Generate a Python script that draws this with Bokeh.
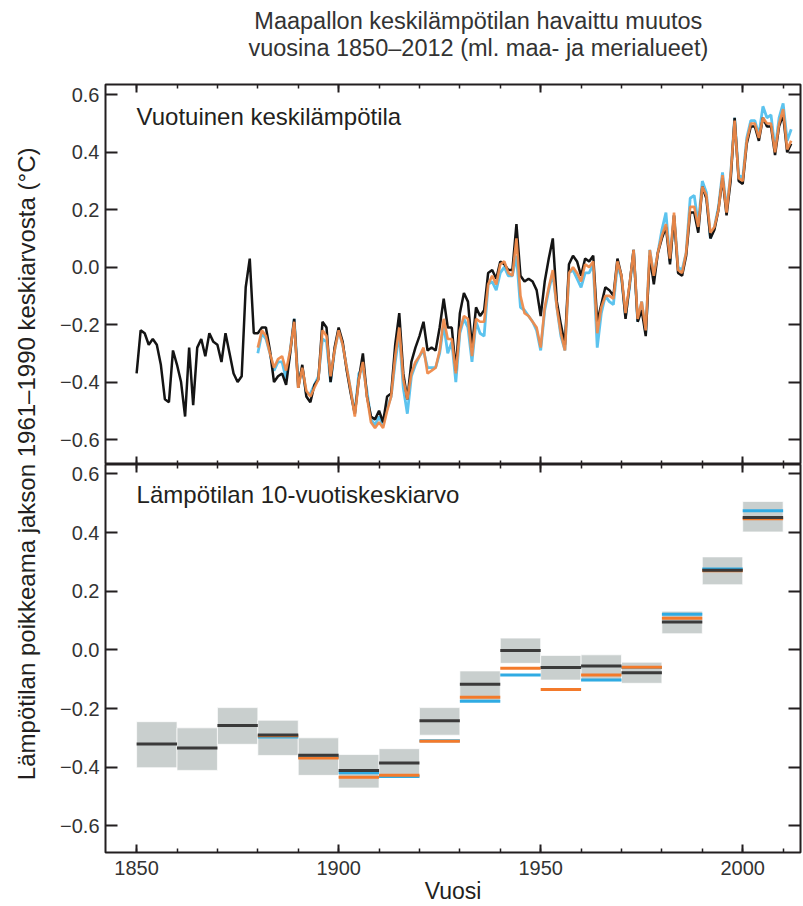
import math
from bokeh.plotting import figure
from bokeh.layouts import row, column
from bokeh.models import (Range1d, LinearAxis, FixedTicker, CustomJSTickFormatter, Label)
from bokeh.embed import file_html
from bokeh.resources import INLINE

# ---------------- data ----------------
title_line1 = "Maapallon keskilämpötilan havaittu muutos"
title_line2 = "vuosina 1850–2012 (ml. maa- ja merialueet)"
panel1_label = "Vuotuinen keskilämpötila"
panel2_label = "Lämpötilan 10-vuotiskeskiarvo"
y_label = "Lämpötilan poikkeama jakson 1961–1990 keskiarvosta  (°C)"
x_label = "Vuosi"

years_black = list(range(1850, 2013))
years_colour = list(range(1880, 2013))

# annual anomalies, black series (1850-2012)
annual_black = [
    -0.37, -0.22, -0.23, -0.27, -0.25, -0.27, -0.34, -0.46, -0.47, -0.29,
    -0.34, -0.40, -0.52, -0.28, -0.48, -0.28, -0.25, -0.31, -0.23, -0.26,
    -0.27, -0.33, -0.23, -0.30, -0.37, -0.40, -0.38, -0.07, 0.03, -0.23,
    -0.23, -0.21, -0.21, -0.29, -0.40, -0.38, -0.37, -0.41, -0.30, -0.18,
    -0.42, -0.34, -0.45, -0.47, -0.41, -0.39, -0.19, -0.21, -0.40, -0.28,
    -0.21, -0.26, -0.36, -0.44, -0.51, -0.39, -0.30, -0.45, -0.52, -0.53,
    -0.50, -0.54, -0.45, -0.44, -0.27, -0.16, -0.37, -0.46, -0.33, -0.28,
    -0.24, -0.19, -0.29, -0.28, -0.29, -0.21, -0.11, -0.21, -0.21, -0.36,
    -0.16, -0.09, -0.12, -0.28, -0.14, -0.17, -0.15, -0.02, -0.01, -0.04,
    0.02, 0.01, -0.01, -0.01, 0.15, -0.03, -0.05, -0.04, -0.05, -0.08,
    -0.17, -0.05, 0.03, 0.10, -0.12, -0.20, -0.27, 0.01, 0.04, 0.02,
    -0.03, 0.03, 0.02, 0.04, -0.19, -0.13, -0.07, -0.08, -0.10, 0.03,
    -0.03, -0.18, -0.06, 0.06, -0.19, -0.15, -0.24, 0.04, -0.06, 0.05,
    0.10, 0.14, 0.01, 0.18, -0.02, -0.03, 0.04, 0.19, 0.19, 0.12,
    0.28, 0.24, 0.10, 0.13, 0.20, 0.31, 0.18, 0.30, 0.52, 0.30,
    0.29, 0.43, 0.49, 0.49, 0.44, 0.52, 0.49, 0.49, 0.39, 0.49,
    0.53, 0.40, 0.43,
]

# annual anomalies, orange series (1880-2012)
annual_orange = [
    -0.28, -0.22, -0.24, -0.30, -0.35, -0.32, -0.31, -0.36, -0.29, -0.19,
    -0.42, -0.35, -0.43, -0.45, -0.42, -0.39, -0.22, -0.24, -0.38, -0.29,
    -0.22, -0.27, -0.35, -0.43, -0.52, -0.39, -0.33, -0.45, -0.54, -0.56,
    -0.54, -0.56, -0.50, -0.45, -0.31, -0.21, -0.39, -0.46, -0.37, -0.33,
    -0.31, -0.28, -0.37, -0.36, -0.35, -0.29, -0.18, -0.25, -0.25, -0.37,
    -0.22, -0.17, -0.18, -0.31, -0.18, -0.19, -0.19, -0.06, -0.03, -0.06,
    0.01, 0.02, -0.02, -0.03, 0.10, -0.10, -0.16, -0.17, -0.19, -0.21,
    -0.28, -0.14, -0.07, -0.01, -0.14, -0.23, -0.29, -0.02, 0.00, -0.02,
    -0.05, 0.01, 0.00, 0.02, -0.23, -0.14, -0.10, -0.10, -0.11, 0.02,
    -0.03, -0.16, -0.06, 0.06, -0.18, -0.12, -0.22, 0.06, -0.03, 0.05,
    0.11, 0.15, 0.03, 0.19, -0.01, -0.02, 0.05, 0.21, 0.21, 0.14,
    0.28, 0.25, 0.12, 0.14, 0.20, 0.32, 0.19, 0.32, 0.51, 0.31,
    0.30, 0.44, 0.50, 0.50, 0.45, 0.52, 0.50, 0.50, 0.40, 0.50,
    0.55, 0.41, 0.44,
]

# annual anomalies, blue series (1880-2012)
annual_blue = [
    -0.30, -0.23, -0.25, -0.30, -0.36, -0.33, -0.33, -0.39, -0.29, -0.18,
    -0.40, -0.35, -0.44, -0.44, -0.41, -0.38, -0.25, -0.26, -0.40, -0.29,
    -0.22, -0.27, -0.35, -0.43, -0.51, -0.37, -0.35, -0.43, -0.53, -0.55,
    -0.52, -0.55, -0.49, -0.45, -0.33, -0.23, -0.42, -0.51, -0.38, -0.34,
    -0.31, -0.29, -0.35, -0.35, -0.35, -0.30, -0.20, -0.30, -0.26, -0.40,
    -0.23, -0.18, -0.21, -0.33, -0.19, -0.23, -0.24, -0.06, -0.05, -0.08,
    -0.02, 0.00, -0.03, -0.03, 0.04, -0.14, -0.15, -0.17, -0.19, -0.22,
    -0.29, -0.15, -0.08, -0.02, -0.14, -0.24, -0.29, -0.02, -0.01, -0.04,
    -0.07, -0.02, -0.02, 0.01, -0.28, -0.16, -0.10, -0.12, -0.13, 0.01,
    -0.04, -0.17, -0.07, 0.06, -0.19, -0.12, -0.23, 0.06, -0.03, 0.05,
    0.13, 0.19, 0.02, 0.18, 0.00, -0.01, 0.05, 0.24, 0.25, 0.15,
    0.30, 0.26, 0.10, 0.14, 0.21, 0.33, 0.20, 0.32, 0.52, 0.32,
    0.31, 0.45, 0.51, 0.51, 0.46, 0.56, 0.52, 0.53, 0.41, 0.52,
    0.57, 0.44, 0.48,
]

# decadal means
decades_black = [1850, 1860, 1870, 1880, 1890, 1900, 1910, 1920,
                 1930, 1940, 1950, 1960, 1970, 1980, 1990, 2000]
decadal_black = [-0.321, -0.335, -0.258, -0.290, -0.359, -0.411, -0.386, -0.242,
                 -0.117, -0.002, -0.060, -0.055, -0.078, 0.095, 0.271, 0.451]
decadal_low = [-0.402, -0.411, -0.322, -0.360, -0.428, -0.471, -0.436, -0.291,
               -0.175, -0.046, -0.103, -0.108, -0.114, 0.055, 0.222, 0.402]
decadal_high = [-0.245, -0.266, -0.197, -0.240, -0.300, -0.357, -0.337, -0.197,
                -0.072, 0.040, -0.019, -0.017, -0.042, 0.132, 0.317, 0.506]
decades_colour = [1880, 1890, 1900, 1910, 1920, 1930, 1940,
                  1950, 1960, 1970, 1980, 1990, 2000]
decadal_orange = [-0.293, -0.369, -0.434, -0.428, -0.312, -0.162, -0.063,
                  -0.135, -0.086, -0.059, 0.108, 0.270, 0.447]
decadal_blue = [-0.297, -0.365, -0.419, -0.432, -0.310, -0.175, -0.086,
                -0.060, -0.103, -0.060, 0.121, 0.276, 0.474]
decade_length = 10

y_ticks = [-0.6, -0.4, -0.2, 0.0, 0.2, 0.4, 0.6]
x_major_ticks = [1850, 1900, 1950, 2000]
x_minor_ticks = [1850, 1860, 1870, 1880, 1890, 1900, 1910, 1920, 1930,
                 1940, 1950, 1960, 1970, 1980, 1990, 2000, 2010]

# ---------------- style ----------------
FONT = "Liberation Sans"
INK = "#231f20"
TICK_TXT = "#333333"
BLACK = "#141414"
ORANGE_A = "#ef8a4a"
BLUE_A = "#5cc3ee"
ORANGE_D = "#f37a2b"
BLUE_D = "#2fabe3"
DARK_D = "#3a3a3a"
BOX = "#c9cfce"

MAIN_W = 754
x_range = Range1d(1842.3, 2014.3)

yfmt = CustomJSTickFormatter(code="return tick.toFixed(1).replace('-', '\u2212');")


def hide_labels(ax):
    ax.formatter = CustomJSTickFormatter(code="return '';")
    ax.major_label_text_font_size = "0px"
    ax.major_label_standoff = 0


def style_common(ax):
    ax.axis_line_color = None
    ax.major_tick_line_color = INK
    ax.minor_tick_line_color = INK
    ax.major_tick_line_width = 2
    ax.minor_tick_line_width = 1.5
    ax.major_tick_out = 0
    ax.minor_tick_out = 0
    ax.major_label_text_font = FONT
    ax.major_label_text_font_size = "20px"
    ax.major_label_text_color = TICK_TXT


def style_x(ax, labels):
    ax.ticker = FixedTicker(ticks=x_major_ticks, minor_ticks=x_minor_ticks)
    style_common(ax)
    ax.major_tick_in = 8
    ax.minor_tick_in = 4
    if not labels:
        hide_labels(ax)


def style_y(ax, labels):
    ax.ticker = FixedTicker(ticks=y_ticks, minor_ticks=[])
    style_common(ax)
    ax.major_tick_in = 12
    ax.minor_tick_in = 0
    if labels:
        ax.formatter = yfmt
        ax.major_label_standoff = 6
    else:
        hide_labels(ax)


def bare_fig(width, height):
    f = figure(width=width, height=height, x_range=Range1d(0, width),
               y_range=Range1d(0, height), output_backend="svg",
               toolbar_location=None, title=None,
               x_axis_location=None, y_axis_location=None,
               min_border_left=0, min_border_right=0,
               min_border_top=0, min_border_bottom=0)
    f.outline_line_color = None
    f.xgrid.grid_line_color = None
    f.ygrid.grid_line_color = None
    return f


def make_fig(height, y_range, top_border, bottom_border):
    p = figure(width=MAIN_W, height=height, x_range=x_range, y_range=y_range,
               output_backend="svg", toolbar_location=None, title=None,
               min_border_left=57, min_border_right=2,
               min_border_top=top_border, min_border_bottom=bottom_border)
    p.xgrid.grid_line_color = None
    p.ygrid.grid_line_color = None
    p.outline_line_color = INK
    p.outline_line_width = 2
    p.background_fill_color = "white"
    p.border_fill_color = "white"
    return p


# ---------------- title strip ----------------
tfig = bare_fig(MAIN_W, 80)
tfig.add_layout(Label(x=404.5, y=60, text=title_line1, text_font=FONT,
                      text_font_size="23.5px", text_color="#333333",
                      text_align="center", text_baseline="middle"))
tfig.add_layout(Label(x=404.5, y=33, text=title_line2, text_font=FONT,
                      text_font_size="23.5px", text_color="#333333",
                      text_align="center", text_baseline="middle"))

# ---------------- top panel ----------------
top = make_fig(384, Range1d(-0.687, 0.636), 4, 0)
style_x(top.xaxis[0], labels=False)
style_y(top.yaxis[0], labels=True)
ax_top = LinearAxis()
style_x(ax_top, labels=False)
top.add_layout(ax_top, "above")
ax_right = LinearAxis()
style_y(ax_right, labels=False)
top.add_layout(ax_right, "right")

top.line(years_colour, annual_blue, line_color=BLUE_A, line_width=2.8)
top.line(years_black, annual_black, line_color=BLACK, line_width=2.5)
top.line(years_colour, annual_orange, line_color=ORANGE_A, line_width=2.6, line_alpha=0.95)

top.add_layout(Label(x=1850, y=0.57, text=panel1_label, text_font=FONT,
                     text_font_size="24px", text_color=INK, text_baseline="top",
                     text_align="left"))

# ---------------- bottom panel ----------------
bot = make_fig(442, Range1d(-0.691, 0.632), 0, 53)
style_x(bot.xaxis[0], labels=True)
bot.xaxis[0].major_label_standoff = 8
bot.xaxis[0].axis_label = x_label
bot.xaxis[0].axis_label_text_font = FONT
bot.xaxis[0].axis_label_text_font_size = "23px"
bot.xaxis[0].axis_label_text_font_style = "normal"
bot.xaxis[0].axis_label_text_color = INK
bot.xaxis[0].axis_label_standoff = 0
style_y(bot.yaxis[0], labels=True)
bax_top = LinearAxis()
style_x(bax_top, labels=False)
bot.add_layout(bax_top, "above")
bax_right = LinearAxis()
style_y(bax_right, labels=False)
bot.add_layout(bax_right, "right")

dec_end_black = [d + decade_length for d in decades_black]
dec_end_colour = [d + decade_length for d in decades_colour]

bot.quad(left=decades_black, right=dec_end_black, bottom=decadal_low, top=decadal_high,
         fill_color=BOX, line_color="white", line_width=1, line_alpha=0.7)
bot.segment(x0=decades_colour, x1=dec_end_colour, y0=decadal_blue, y1=decadal_blue,
            line_color=BLUE_D, line_width=3)
bot.segment(x0=decades_colour, x1=dec_end_colour, y0=decadal_orange, y1=decadal_orange,
            line_color=ORANGE_D, line_width=3)
bot.segment(x0=decades_black, x1=dec_end_black, y0=decadal_black, y1=decadal_black,
            line_color=DARK_D, line_width=3)

bot.add_layout(Label(x=1850, y=0.575, text=panel2_label, text_font=FONT,
                     text_font_size="24px", text_color=INK, text_baseline="top",
                     text_align="left"))

# ---------------- y label strip ----------------
lab = bare_fig(48, 906)
lab.add_layout(Label(x=26, y=446, text=y_label, angle=math.pi / 2, text_font=FONT,
                     text_font_size="24px", text_color=INK, text_align="center",
                     text_baseline="middle"))

layout = row(lab, column(tfig, top, bot))

open("out.html", "w").write(file_html(layout, INLINE))
